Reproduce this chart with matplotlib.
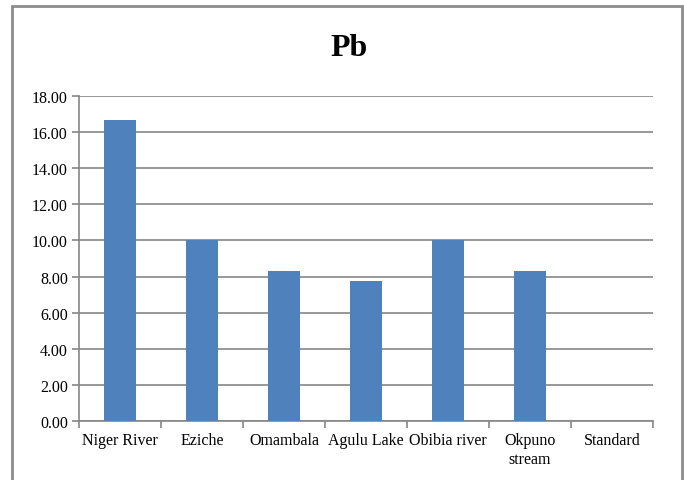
import matplotlib
matplotlib.use("Agg")
import matplotlib.pyplot as plt
from matplotlib.patches import Rectangle
import numpy as np

sites = ["Niger River", "Eziche", "Omambala", "Agulu Lake", "Obibia river",
         "Okpuno\nstream", "Standard"]
pb = [16.67, 10.00, 8.33, 7.78, 10.00, 8.33, 0.01]
yticks = [0, 2, 4, 6, 8, 10, 12, 14, 16, 18]

plt.rcParams['font.family'] = ['Liberation Serif', 'DejaVu Serif']

W, H = 684, 481
fig = plt.figure(figsize=(W / 100, H / 100), dpi=100)
ax = fig.add_axes([79 / W, 1 - 422 / H, (653 - 79) / W, (422 - 97) / H])

# chart frame
fig.patches.append(Rectangle((11.5 / W, -0.1), 670.5 / W, 1.1 - 7 / H,
                             transform=fig.transFigure, fill=False,
                             edgecolor="#8c8c8c", lw=2, zorder=0))

x = np.arange(len(sites))
colors = ["#4F81BD"] * 6 + ["#9BBB59"]
ax.bar(x, pb, width=0.4, color=colors, zorder=3)

ax.set_xlim(-0.5, len(sites) - 0.5)
ax.set_ylim(0, 18)
ax.set_yticks(yticks)
ax.set_yticklabels([f"{v:.2f}" for v in yticks], fontsize=11.5)
ax.set_xticks(x)
ax.set_xticklabels(sites, fontsize=11.5, linespacing=1.25)
ax.set_xticks(np.arange(-0.5, len(sites)), minor=True)
ax.tick_params(axis='x', which='major', length=0, pad=8)
ax.tick_params(axis='x', which='minor', length=5, color="#868686", width=1.2)
ax.tick_params(axis='y', length=5, color="#868686", width=1.2, pad=3)

ax.grid(axis='y', color="#868686", lw=1.2, zorder=0)
for s in ["top", "right"]:
    ax.spines[s].set_visible(False)
for s in ["left", "bottom"]:
    ax.spines[s].set_color("#868686")
    ax.spines[s].set_linewidth(1.2)

fig.text(349 / W, 1 - 48 / H, "Pb", fontsize=23, fontweight="bold",
         ha="center", va="center")

fig.savefig("out.png", dpi=100)
